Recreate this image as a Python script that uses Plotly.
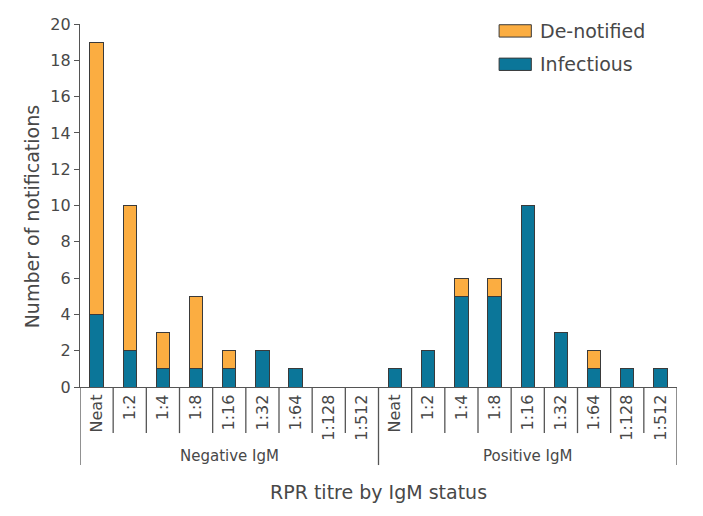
import plotly.graph_objects as go

titres = ["Neat", "1:2", "1:4", "1:8", "1:16", "1:32", "1:64", "1:128", "1:512"]
groups = ["Negative IgM", "Positive IgM"]
infectious_neg = [4, 2, 1, 1, 1, 2, 1, 0, 0]
denotified_neg = [15, 8, 2, 4, 1, 0, 0, 0, 0]
infectious_pos = [1, 2, 5, 5, 10, 3, 1, 1, 1]
denotified_pos = [0, 0, 1, 1, 0, 0, 1, 0, 0]

labels = titres + titres
infectious = infectious_neg + infectious_pos
denotified = denotified_neg + denotified_pos
xs = list(range(len(labels)))

ORANGE = "#FBAD41"
TEAL = "#0B7699"
EDGE = "#3a3a3a"
TXT = "#484848"
FONT = "DejaVu Sans"

fig = go.Figure()
fig.add_trace(go.Bar(x=xs, y=infectious, name="Infectious", width=0.4,
                     marker=dict(color=TEAL, line=dict(color=EDGE, width=1)),
                     showlegend=False))
fig.add_trace(go.Bar(x=xs, y=denotified, name="De-notified", width=0.4,
                     marker=dict(color=ORANGE, line=dict(color=EDGE, width=1)),
                     showlegend=False))

shapes = []
n = len(labels)
for i in range(n + 1):
    long_line = i in (0, len(titres), n)
    shapes.append(dict(type="line", xref="x", yref="paper",
                       x0=i - 0.5, x1=i - 0.5, y0=0, y1=-0.215 if long_line else -0.127,
                       line=dict(color="#555", width=1.3)))
shapes.append(dict(type="rect", xref="paper", yref="paper", x0=0.702, x1=0.756,
                   y0=0.964, y1=0.998, fillcolor=ORANGE, line=dict(color=EDGE, width=1)))
shapes.append(dict(type="rect", xref="paper", yref="paper", x0=0.702, x1=0.756,
                   y0=0.872, y1=0.906, fillcolor=TEAL, line=dict(color=EDGE, width=1)))

annotations = [
    dict(text="De-notified", xref="paper", yref="paper", x=0.767, y=0.981,
         xanchor="left", yanchor="middle", showarrow=False, font=dict(size=19, color=TXT, family=FONT)),
    dict(text="Infectious", xref="paper", yref="paper", x=0.767, y=0.889,
         xanchor="left", yanchor="middle", showarrow=False, font=dict(size=19, color=TXT, family=FONT)),
    dict(text="RPR titre by IgM status", xref="paper", yref="paper", x=0.5, y=-0.289,
         xanchor="center", yanchor="middle", showarrow=False, font=dict(size=19, color=TXT, family=FONT)),
    dict(text="Number of notifications", xref="paper", yref="paper", x=-0.08, y=0.468, textangle=-90,
         xanchor="center", yanchor="middle", showarrow=False, font=dict(size=19, color=TXT, family=FONT)),
]
for gi, g in enumerate(groups):
    annotations.append(dict(text=g, xref="x", yref="paper",
                            x=gi * len(titres) + (len(titres) - 1) / 2, y=-0.19,
                            xanchor="center", yanchor="middle", showarrow=False,
                            font=dict(size=15, color=TXT, family=FONT)))

# page body adds an 8px offset; figure is sized so the plot lands where the reference has it
fig.update_layout(
    barmode="stack",
    width=695, height=508,
    margin=dict(l=72, r=26, t=16, b=129, autoexpand=False),
    plot_bgcolor="white", paper_bgcolor="white",
    font=dict(family=FONT, color=TXT),
    shapes=shapes, annotations=annotations,
    xaxis=dict(range=[-0.5, n - 0.5], tickvals=xs, ticktext=labels, tickangle=-90,
               showline=True, linecolor="#555", linewidth=1.3, ticks="",
               showgrid=False, zeroline=False, tickfont=dict(size=16, color=TXT), automargin=False),
    yaxis=dict(range=[0, 20], dtick=2, showline=True, linecolor="#555", linewidth=1.3,
               ticks="outside", ticklen=5, tickcolor="#555", showgrid=False, zeroline=False,
               tickfont=dict(size=16, color=TXT), automargin=False),
)
fig.write_html("out.html")
